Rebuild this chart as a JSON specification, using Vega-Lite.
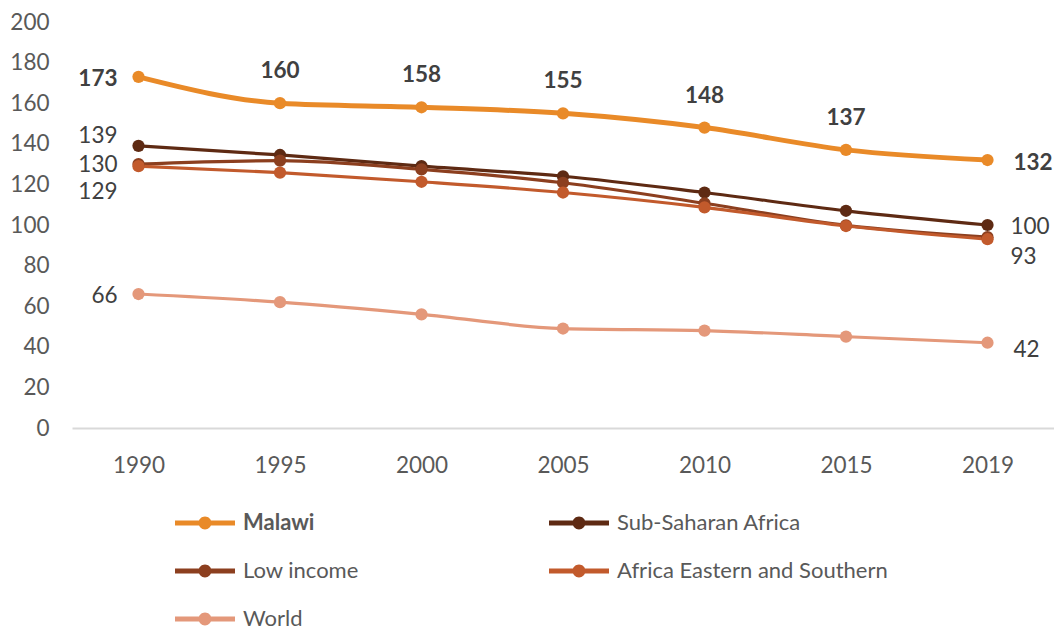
{
  "$schema": "https://vega.github.io/schema/vega-lite/v6.json",
  "width": 982,
  "height": 406,
  "autosize": {"type": "none"},
  "padding": {"left": 72, "top": 22, "right": 0, "bottom": 202},
  "background": "white",
  "config": {"view": {"stroke": null}, "font": "Lato"},
  "data": {
    "values": [
      {"series": "Malawi", "year": 1990, "value": 173},
      {"series": "Malawi", "year": 1995, "value": 160},
      {"series": "Malawi", "year": 2000, "value": 158},
      {"series": "Malawi", "year": 2005, "value": 155},
      {"series": "Malawi", "year": 2010, "value": 148},
      {"series": "Malawi", "year": 2015, "value": 137},
      {"series": "Malawi", "year": 2019, "value": 132},
      {"series": "Sub-Saharan Africa", "year": 1990, "value": 139},
      {"series": "Sub-Saharan Africa", "year": 1995, "value": 134.5},
      {"series": "Sub-Saharan Africa", "year": 2000, "value": 129},
      {"series": "Sub-Saharan Africa", "year": 2005, "value": 124},
      {"series": "Sub-Saharan Africa", "year": 2010, "value": 116},
      {"series": "Sub-Saharan Africa", "year": 2015, "value": 107},
      {"series": "Sub-Saharan Africa", "year": 2019, "value": 100},
      {"series": "Low income", "year": 1990, "value": 130},
      {"series": "Low income", "year": 1995, "value": 131.7},
      {"series": "Low income", "year": 2000, "value": 127.4},
      {"series": "Low income", "year": 2005, "value": 120.8},
      {"series": "Low income", "year": 2010, "value": 110.7},
      {"series": "Low income", "year": 2015, "value": 99.8},
      {"series": "Low income", "year": 2019, "value": 94},
      {"series": "Africa Eastern and Southern", "year": 1990, "value": 129},
      {"series": "Africa Eastern and Southern", "year": 1995, "value": 125.8},
      {"series": "Africa Eastern and Southern", "year": 2000, "value": 121.3},
      {"series": "Africa Eastern and Southern", "year": 2005, "value": 116},
      {"series": "Africa Eastern and Southern", "year": 2010, "value": 108.7},
      {"series": "Africa Eastern and Southern", "year": 2015, "value": 99.5},
      {"series": "Africa Eastern and Southern", "year": 2019, "value": 93},
      {"series": "World", "year": 1990, "value": 66},
      {"series": "World", "year": 1995, "value": 62},
      {"series": "World", "year": 2000, "value": 56},
      {"series": "World", "year": 2005, "value": 49},
      {"series": "World", "year": 2010, "value": 48},
      {"series": "World", "year": 2015, "value": 45},
      {"series": "World", "year": 2019, "value": 42}
    ]
  },
  "encoding": {
    "x": {
      "field": "year",
      "type": "ordinal",
      "scale": {"type": "point", "padding": 0.47},
      "axis": {
        "title": null,
        "labelAngle": 0,
        "ticks": false,
        "grid": false,
        "labelPadding": 26,
        "labelFontSize": 22.5,
        "labelColor": "#595959",
        "domainColor": "#D9D9D9",
        "domainWidth": 2
      }
    },
    "y": {
      "field": "value",
      "type": "quantitative",
      "scale": {"domain": [0, 200], "nice": false},
      "axis": {
        "title": null,
        "values": [0, 20, 40, 60, 80, 100, 120, 140, 160, 180, 200],
        "ticks": false,
        "domain": false,
        "grid": false,
        "labelPadding": 23,
        "labelFontSize": 22.5,
        "labelColor": "#595959"
      }
    }
  },
  "layer": [
    {
      "mark": {"type": "line", "interpolate": "monotone"},
      "encoding": {
        "color": {
          "field": "series",
          "type": "nominal",
          "scale": {
            "domain": ["Malawi", "Sub-Saharan Africa", "Low income", "Africa Eastern and Southern", "World"],
            "range": ["#E98A28", "#5E2A13", "#8C3F1F", "#C25A2C", "#E4987A"]
          },
          "legend": {
            "title": null,
            "orient": "none",
            "legendX": 118,
            "legendY": 486,
            "columns": 2,
            "padding": 0,
            "values": ["Malawi", "Low income", "World", "Sub-Saharan Africa", "Africa Eastern and Southern"],
            "symbolType": "M-2,-0.17L2,-0.17L2,0.17L-2,0.17Z M-0.43,0A0.43,0.43 0 1,1 0.43,0A0.43,0.43 0 1,1 -0.43,0Z",
            "symbolSize": 900,
            "symbolStrokeWidth": 0,
            "labelFontSize": 22,
            "labelColor": "#595959",
            "labelOffset": 23,
            "labelLimit": 400,
            "rowPadding": 22,
            "columnPadding": 190,
            "encode": {
              "symbols": {"update": {"fill": {"scale": "color", "field": "value"}, "opacity": {"value": 1}, "strokeWidth": {"value": 0}}},
              "labels": {"update": {"fontWeight": {"signal": "datum.value === 'Malawi' ? 'bold' : 'normal'"}}}
            }
          }
        },
        "strokeWidth": {"condition": {"test": "datum.series === 'Malawi'", "value": 5}, "value": 3.2}
      }
    },
    {
      "mark": {"type": "circle", "size": 150, "opacity": 1},
      "encoding": {
        "color": {"field": "series", "type": "nominal"}
      }
    },
    {
      "transform": [{"filter": "datum.series === 'Malawi' && datum.year > 1990 && datum.year < 2019"}],
      "mark": {"type": "text", "dy": -32, "fontSize": 22.5, "fontWeight": "bold", "color": "#404040"},
      "encoding": {"text": {"field": "value", "type": "quantitative"}}
    },
    {
      "transform": [{"filter": "datum.series === 'Malawi' && datum.year === 1990"}],
      "mark": {"type": "text", "align": "right", "dx": -21, "dy": 2, "fontSize": 22.5, "fontWeight": "bold", "color": "#404040"},
      "encoding": {"text": {"field": "value", "type": "quantitative"}}
    },
    {
      "transform": [{"filter": "datum.series === 'Malawi' && datum.year === 2019"}],
      "mark": {"type": "text", "align": "left", "dx": 26, "dy": 3, "fontSize": 22.5, "fontWeight": "bold", "color": "#404040"},
      "encoding": {"text": {"field": "value", "type": "quantitative"}}
    },
    {
      "transform": [{"filter": "datum.series === 'Sub-Saharan Africa' && datum.year === 1990"}],
      "mark": {"type": "text", "align": "right", "dx": -21, "dy": -10, "fontSize": 22.5, "color": "#404040"},
      "encoding": {"text": {"field": "value", "type": "quantitative"}}
    },
    {
      "transform": [{"filter": "datum.series === 'Low income' && datum.year === 1990"}],
      "mark": {"type": "text", "align": "right", "dx": -21, "dy": 1, "fontSize": 22.5, "color": "#404040"},
      "encoding": {"text": {"field": "value", "type": "quantitative"}}
    },
    {
      "transform": [{"filter": "datum.series === 'Africa Eastern and Southern' && datum.year === 1990"}],
      "mark": {"type": "text", "align": "right", "dx": -21, "dy": 26, "fontSize": 22.5, "color": "#404040"},
      "encoding": {"text": {"field": "value", "type": "quantitative"}}
    },
    {
      "transform": [{"filter": "datum.series === 'World' && datum.year === 1990"}],
      "mark": {"type": "text", "align": "right", "dx": -21, "dy": 2, "fontSize": 22.5, "color": "#404040"},
      "encoding": {"text": {"field": "value", "type": "quantitative"}}
    },
    {
      "transform": [{"filter": "datum.series === 'Sub-Saharan Africa' && datum.year === 2019"}],
      "mark": {"type": "text", "align": "left", "dx": 23, "dy": 2, "fontSize": 22.5, "color": "#404040"},
      "encoding": {"text": {"field": "value", "type": "quantitative"}}
    },
    {
      "transform": [{"filter": "datum.series === 'Africa Eastern and Southern' && datum.year === 2019"}],
      "mark": {"type": "text", "align": "left", "dx": 23, "dy": 18, "fontSize": 22.5, "color": "#404040"},
      "encoding": {"text": {"field": "value", "type": "quantitative"}}
    },
    {
      "transform": [{"filter": "datum.series === 'World' && datum.year === 2019"}],
      "mark": {"type": "text", "align": "left", "dx": 26, "dy": 7, "fontSize": 22.5, "color": "#404040"},
      "encoding": {"text": {"field": "value", "type": "quantitative"}}
    }
  ]
}
